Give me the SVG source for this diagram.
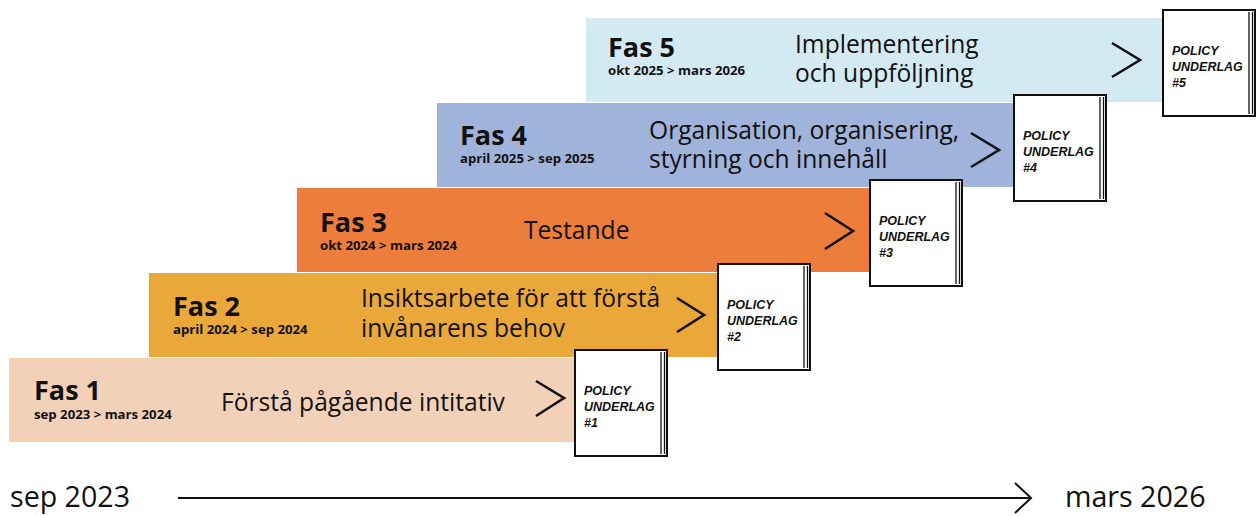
<svg xmlns="http://www.w3.org/2000/svg" width="1257" height="516" viewBox="0 0 1257 516">
<style>
.lbl{font-family:"Open Sans","Liberation Sans",sans-serif;fill:#111}
.fas{font-weight:700;font-size:27px}
.date{font-weight:700;font-size:13.2px}
.main{font-family:"Open Sans","Liberation Sans",sans-serif;font-size:24.6px;fill:#111}
.doc rect{fill:#fff;stroke:#111;stroke-width:2}
.doc line{stroke:#111;stroke-width:1.3}
.doc text{font-family:"Liberation Sans",Arial,sans-serif;font-weight:700;font-style:italic;font-size:12.5px;fill:#111}
.chev{fill:none;stroke:#111;stroke-width:2.6}
.axis{font-family:"Open Sans","Liberation Sans",sans-serif;font-size:28.6px;fill:#111}
</style>
<rect width="1257" height="516" fill="#fff"/>

<g id="fas5">
<rect x="586" y="18" width="616" height="84" fill="#d4eaf2"/>
<text class="lbl"><tspan class="fas" x="608" y="57">Fas 5</tspan><tspan class="date" x="608" y="75">okt 2025 &gt; mars 2026</tspan></text>
<text class="main"><tspan x="795" y="53">Implementering</tspan><tspan x="795" y="82">och uppföljning</tspan></text>
<polyline class="chev" points="1112,43 1140,60 1112,77"/>
</g>

<g id="fas4">
<rect x="437" y="103" width="616" height="84" fill="#a0b3da"/>
<text class="lbl"><tspan class="fas" x="460" y="145">Fas 4</tspan><tspan class="date" x="460" y="163">april 2025 &gt; sep 2025</tspan></text>
<text class="main"><tspan x="649" y="139">Organisation, organisering,</tspan><tspan x="649" y="168">styrning och innehåll</tspan></text>
<polyline class="chev" points="971,133 999,150 971,167"/>
</g>

<g id="fas3">
<rect x="297" y="188" width="612" height="84" fill="#ed7d3b"/>
<text class="lbl"><tspan class="fas" x="320" y="232">Fas 3</tspan><tspan class="date" x="320" y="250">okt 2024 &gt; mars 2024</tspan></text>
<text class="main" x="524" y="239">Testande</text>
<polyline class="chev" points="825,213 853,231 825,249"/>
</g>

<g id="fas2">
<rect x="149" y="273" width="610" height="84" fill="#eba83a"/>
<text class="lbl"><tspan class="fas" x="173" y="316">Fas 2</tspan><tspan class="date" x="173" y="334">april 2024 &gt; sep 2024</tspan></text>
<text class="main"><tspan x="361" y="307">Insiktsarbete för att förstå</tspan><tspan x="361" y="337">invånarens behov</tspan></text>
<polyline class="chev" points="677,298 704,315 677,332"/>
</g>

<g id="fas1">
<rect x="9" y="358" width="606" height="84" fill="#f2d1b8"/>
<text class="lbl"><tspan class="fas" x="34" y="400">Fas 1</tspan><tspan class="date" x="34" y="419">sep 2023 &gt; mars 2024</tspan></text>
<text class="main" x="221" y="411">Förstå pågående intitativ</text>
<polyline class="chev" points="536,381 564,398 536,416"/>
</g>

<g id="doc1" class="doc">
<rect x="575" y="350" width="92" height="106"/>
<line x1="661" y1="352" x2="661" y2="454"/><line x1="664.5" y1="352" x2="664.5" y2="454"/>
<text><tspan x="584" y="395">POLICY</tspan><tspan x="584" y="411">UNDERLAG</tspan><tspan x="584" y="427">#1</tspan></text>
</g>
<g id="doc2" class="doc">
<rect x="718" y="264" width="92" height="106"/>
<line x1="804" y1="266" x2="804" y2="368"/><line x1="807.5" y1="266" x2="807.5" y2="368"/>
<text><tspan x="727" y="309">POLICY</tspan><tspan x="727" y="325">UNDERLAG</tspan><tspan x="727" y="341">#2</tspan></text>
</g>
<g id="doc3" class="doc">
<rect x="870" y="180" width="92" height="106"/>
<line x1="956" y1="182" x2="956" y2="284"/><line x1="959.5" y1="182" x2="959.5" y2="284"/>
<text><tspan x="879" y="225">POLICY</tspan><tspan x="879" y="241">UNDERLAG</tspan><tspan x="879" y="257">#3</tspan></text>
</g>
<g id="doc4" class="doc">
<rect x="1014" y="95" width="92" height="106"/>
<line x1="1100" y1="97" x2="1100" y2="199"/><line x1="1103.5" y1="97" x2="1103.5" y2="199"/>
<text><tspan x="1023" y="140">POLICY</tspan><tspan x="1023" y="156">UNDERLAG</tspan><tspan x="1023" y="172">#4</tspan></text>
</g>
<g id="doc5" class="doc">
<rect x="1163" y="10" width="92" height="106"/>
<line x1="1249" y1="12" x2="1249" y2="114"/><line x1="1252.5" y1="12" x2="1252.5" y2="114"/>
<text><tspan x="1172" y="55">POLICY</tspan><tspan x="1172" y="71">UNDERLAG</tspan><tspan x="1172" y="87">#5</tspan></text>
</g>

<g id="timeline">
<line x1="178" y1="498" x2="1031" y2="498" stroke="#111" stroke-width="2"/>
<polyline points="1015,483 1031,498 1015,513" fill="none" stroke="#111" stroke-width="2"/>
<text class="axis" x="10" y="507">sep 2023</text>
<text class="axis" x="1065" y="507">mars 2026</text>
</g>
</svg>
